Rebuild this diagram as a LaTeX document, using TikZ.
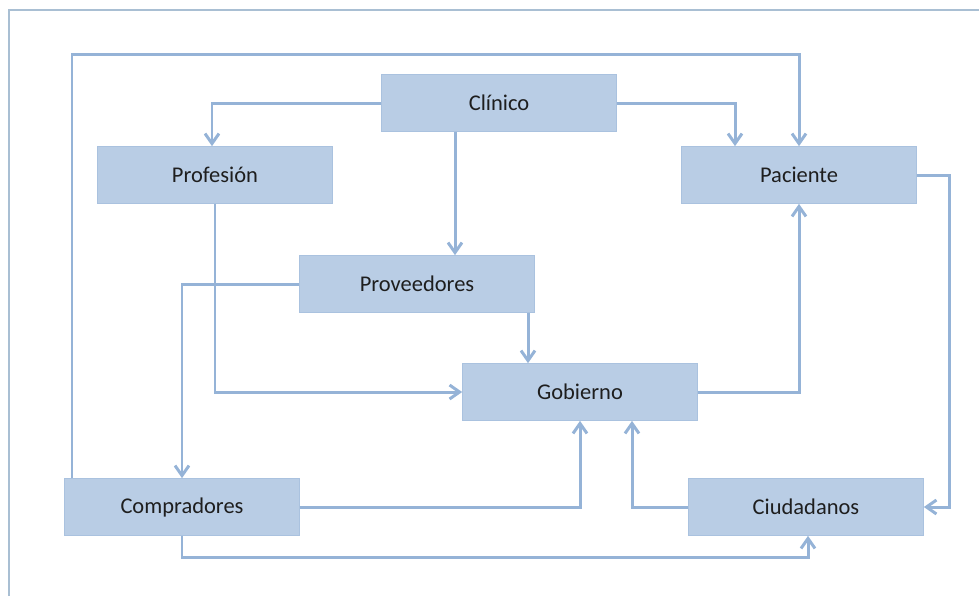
\documentclass[tikz,border=0pt]{standalone}
\usepackage{fontspec}
\setmainfont{Carlito}
\usepackage{xcolor}
\usetikzlibrary{arrows.meta,calc}

\definecolor{boxfill}{HTML}{B9CDE5}
\definecolor{linkblue}{HTML}{95B3D7}
\definecolor{framegray}{HTML}{A9BFD3}
\definecolor{textdark}{HTML}{1E1E1E}

\begin{document}
\begin{tikzpicture}[
  x=0.02cm, y=-0.02cm,
  box/.style={draw=linkblue!80, line width=0.4pt, fill=boxfill, minimum width=4.7cm, minimum height=1.14cm,
    text=textdark, font=\fontsize{12.8}{15}\selectfont},
  arr/.style={-{Straight Barb[length=2mm, width=2.8mm]}, draw=linkblue, line width=1.7pt},
  frame/.style={draw=framegray, line width=1.2pt}
]
\useasboundingbox (0,0) rectangle (979,596);
\draw[frame] (9,596) -- (9,10) -- (979,10);

\node[box] (clinico) at (499,103) {Clínico};
\node[box] (profesion) at (215,175) {Profesión};
\node[box] (paciente) at (799,175) {Paciente};
\node[box] (proveedores) at (417,284) {Proveedores};
\node[box] (gobierno) at (580,392) {Gobierno};
\node[box] (compradores) at (182,507) {Compradores};
\node[box] (ciudadanos) at (806,507) {Ciudadanos};

\draw[arr] (clinico.west) -| ($(profesion.north)+(-3,0)$);
\draw[arr] (clinico.east) -| ($(paciente.north)+(-64,0)$);
\draw[arr] ($(clinico.south)+(-44,0)$) coordinate (c1) -- (c1 |- proveedores.north);
\draw[arr] ($(compradores.north)+(-110,0)$) -- ++(0,-424) -| (paciente.north);
\draw[arr] (paciente.east) -- ++(33,0) |- (ciudadanos.east);
\draw[arr] (profesion.south) |- (gobierno.west);
\draw[arr] (proveedores.west) -| (compradores.north);
\draw[arr] ($(proveedores.south)+(111,0)$) coordinate (p1) -- (p1 |- gobierno.north);
\draw[arr] (gobierno.east) -| (paciente.south);
\draw[arr] (compradores.east) -| (gobierno.south);
\draw[arr] (ciudadanos.west) -| ($(gobierno.south)+(52,0)$);
\draw[arr] (compradores.south) -- ++(0,22) -| ($(ciudadanos.south)+(2,0)$);
\end{tikzpicture}
\end{document}
